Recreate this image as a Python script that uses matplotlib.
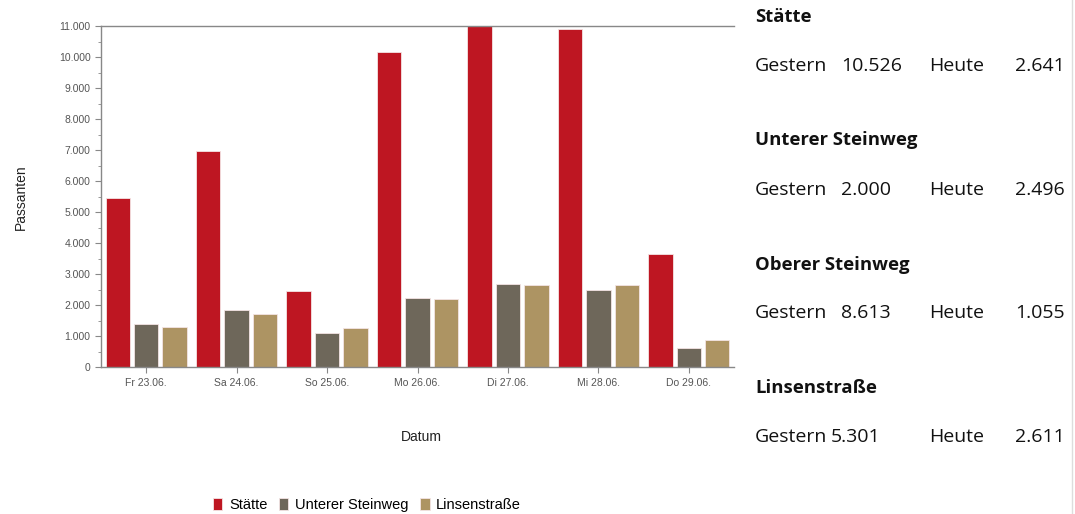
import matplotlib
matplotlib.use("Agg")
import matplotlib.pyplot as plt
import numpy as np
from matplotlib.ticker import FuncFormatter, MultipleLocator

categories = ["Fr 23.06.", "Sa 24.06.", "So 25.06.", "Mo 26.06.", "Di 27.06.", "Mi 28.06.", "Do 29.06."]
series_names = ["Stätte", "Unterer Steinweg", "Linsenstraße"]
staette = [5440, 6970, 2440, 10150, 11000, 10910, 3640]
unterer = [1380, 1830, 1090, 2230, 2670, 2500, 610]
linsen = [1290, 1700, 1260, 2180, 2660, 2660, 860]
colors = ["#BE1622", "#6E675A", "#AD9463"]

panel_titles = ["Stätte", "Unterer Steinweg", "Oberer Steinweg", "Linsenstraße"]
gestern_vals = ["10.526", "2.000", "8.613", "5.301"]
heute_vals = ["2.641", "2.496", "1.055", "2.611"]

fig = plt.figure(figsize=(10.75, 5.14), dpi=100)
ax = fig.add_axes([101/1075, 1-367/514, (734-101)/1075, (367-26)/514])

x = np.arange(len(categories))
w = 0.27
step = 0.315
for i, (vals, name) in enumerate(zip([staette, unterer, linsen], series_names)):
    ax.bar(x + (i-1)*step, vals, w, color=colors[i], label=name,
           edgecolor="#f4e4e4", linewidth=0.6)

ax.set_xlim(-0.5, 6.5)
ax.set_ylim(0, 11000)
ax.yaxis.set_major_locator(MultipleLocator(1000))
ax.yaxis.set_minor_locator(MultipleLocator(500))
ax.yaxis.set_major_formatter(FuncFormatter(lambda v, p: f"{int(v):,}".replace(",", ".")))
ax.set_xticks(x)
ax.set_xticklabels(categories)
for s in ["left", "bottom", "top"]:
    ax.spines[s].set_color("#888888")
    ax.spines[s].set_linewidth(1.0)
ax.spines["right"].set_visible(False)
ax.tick_params(axis="both", which="both", direction="out", color="#888888", labelcolor="#555555",
               labelsize=7.5)
ax.tick_params(axis="y", which="major", length=4)
ax.tick_params(axis="y", which="minor", length=2)
ax.tick_params(axis="x", length=4, pad=4)
for lab in ax.get_xticklabels() + ax.get_yticklabels():
    lab.set_family("Liberation Sans")

fig.text(21/1075, 1-197/514, "Passanten", rotation=90, ha="center", va="center",
         fontsize=10, family="Liberation Sans", color="#222222")
fig.text(421/1075, 1-437/514, "Datum", ha="center", va="center",
         fontsize=10, family="Liberation Sans", color="#222222")

leg = fig.legend(loc="center", bbox_to_anchor=(367/1075, 1-505/514), ncol=3, frameon=False,
                 handlelength=0.65, handleheight=0.85, handletextpad=0.45,
                 columnspacing=0.8, prop={"family": "Liberation Sans", "size": 10.5})

# Right text panel
fs = 14
fam = "Open Sans"
head_y = [17, 140, 265, 388]
row_y = [66, 190, 313, 437]
num_x = [841, 841, 841, 831]
for t, g, h, hy, ry, nx in zip(panel_titles, gestern_vals, heute_vals, head_y, row_y, num_x):
    fig.text(755/1075, 1-hy/514, t, ha="left", va="center", fontsize=13.3, fontweight="bold",
             family=fam, color="#111111")
    fig.text(755/1075, 1-ry/514, "Gestern", ha="left", va="center", fontsize=fs, family=fam, color="#111111")
    fig.text(nx/1075, 1-ry/514, g, ha="left", va="center", fontsize=fs, family=fam, color="#111111")
    fig.text(929/1075, 1-ry/514, "Heute", ha="left", va="center", fontsize=fs, family=fam, color="#111111")
    fig.text(1065/1075, 1-ry/514, h, ha="right", va="center", fontsize=fs, family=fam, color="#111111")

fig.add_artist(plt.Line2D([1072/1075, 1072/1075], [0, 1], color="#dddddd", linewidth=1))

fig.savefig("out.png", dpi=100)
